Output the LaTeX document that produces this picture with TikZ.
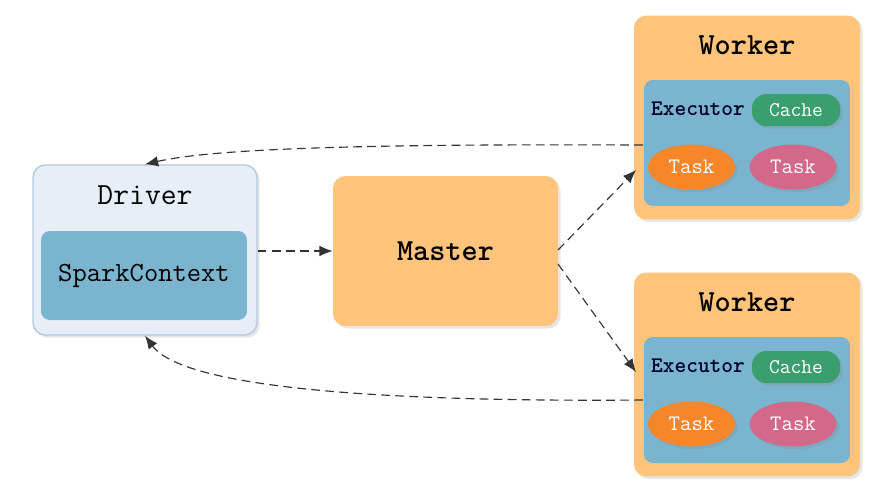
\documentclass[tikz,border=0pt]{standalone}
\usepackage{tikz}
\usetikzlibrary{arrows.meta,%
		positioning,%
		shadows,%
		shapes,%
		shapes.geometric}

\definecolor{boxorange}{HTML}{FFC47C}
\definecolor{execblue}{HTML}{7BB4CE}
\definecolor{drvfill}{HTML}{E8EEF8}
\definecolor{drvline}{HTML}{B4C8E0}
\definecolor{cachegreen}{HTML}{3A9E6E}
\definecolor{taskorange}{HTML}{F5862A}
\definecolor{taskpink}{HTML}{D2688A}
\definecolor{linegray}{HTML}{333333}

\tikzset{
  shade/.style={drop shadow={shadow xshift=1.5pt,shadow yshift=-1.5pt,opacity=0.2}},
  outerbox/.style={shade,fill=boxorange,rounded corners=7pt,inner sep=0pt},
  execbox/.style={fill=execblue,rounded corners=5pt,inner sep=0pt},
  taskell/.style={ellipse,shade,inner sep=0pt,minimum width=1.74cm,minimum height=0.9cm,
    text=white,font=\ttfamily\fontsize{12.6}{14}\selectfont},
  cachepill/.style={rounded corners=8pt,shade,fill=cachegreen,inner sep=0pt,
    minimum width=1.76cm,minimum height=0.64cm,text=white,
    font=\ttfamily\fontsize{11.9}{14}\selectfont},
  bigtext/.style={font=\ttfamily\fontsize{17.5}{20}\selectfont},
  bigbold/.style={font=\ttfamily\bfseries\fontsize{17.5}{20}\selectfont},
  exectext/.style={font=\ttfamily\bfseries\fontsize{12.7}{15}\selectfont,text=black!85!blue},
  flow/.style={dash pattern=on 5pt off 3pt,line width=0.65pt,draw=linegray,
    -{Latex[length=7.5pt,width=6pt]}}
}

\begin{document}
\begin{tikzpicture}[x=0.02cm,y=-0.02cm]
\useasboundingbox (0,0) rectangle (888,498);

% driver
\node[shade,fill=drvfill,draw=drvline,line width=0.8pt,rounded corners=7pt,inner sep=0pt,
  minimum width=4.48cm,minimum height=3.4cm] (driver) at (145,250) {};
\node[bigtext] (drvlabel) at (145,195) {Driver};
\node[execbox,minimum width=4.12cm,minimum height=1.78cm,
  font=\ttfamily\fontsize{15.8}{18}\selectfont] (sc) at (144,275.5) {SparkContext};

% master
\node[outerbox,minimum width=4.5cm,minimum height=3.0cm,bigbold] (master) at (445.5,251) {Master};

% workers
\foreach \i/\y in {1/0,2/257}{
  \node[outerbox,minimum width=4.52cm,minimum height=4.08cm] (worker\i) at (747,117.5+\y) {};
  \node[bigbold] (wlabel\i) at (747,45+\y) {Worker};
  \node[execbox,minimum width=4.12cm,minimum height=2.52cm] (exec\i) at (747,143+\y) {};
  \node[exectext] (elabel\i) at (698,109+\y) {Executor};
  \node[cachepill] (cache\i) at (796,110+\y) {Cache};
  \node[taskell,fill=taskorange] (taska\i) at (691.5,167+\y) {Task};
  \node[taskell,fill=taskpink] (taskb\i) at (793,167+\y) {Task};
}

% connectors
\coordinate (m1) at (558,250);
\coordinate (m2) at (558,264);
\coordinate (w1in) at (636,170);
\coordinate (w2in) at (636,372);
\coordinate (w1out) at (643,145);
\coordinate (w2out) at (643,400);

\draw[flow] (driver.east |- master.west) -- (master.west);
\draw[flow] (m1) -- (w1in);
\draw[flow] (m2) -- (w2in);
\draw[flow] (w1out) .. controls (400,144) and (220,147) .. (driver.north);
\draw[flow] (w2out) .. controls (400,402) and (185,390) .. (driver.south);

\end{tikzpicture}
\end{document}
